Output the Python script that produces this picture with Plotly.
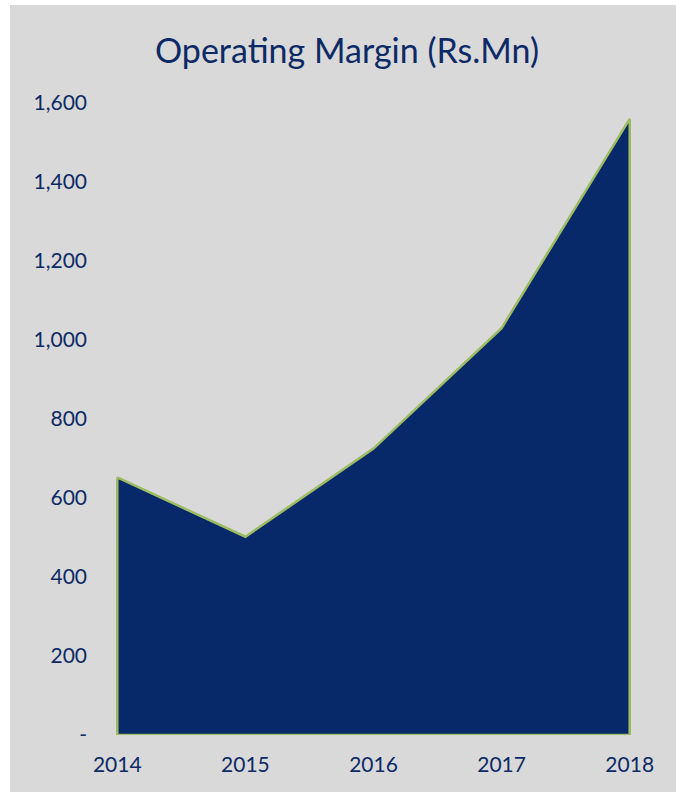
import plotly.graph_objects as go

years = ["2014", "2015", "2016", "2017", "2018"]
operating_margin = [652, 502, 725, 1030, 1560]
y_tick_vals = [0, 200, 400, 600, 800, 1000, 1200, 1400, 1600]
y_tick_text = ["-", "200", "400", "600", "800", "1,000", "1,200", "1,400", "1,600"]

TEXT = "#0c2a66"
FILL = "#072869"
LINE = "#9dbb61"
BG = "#d9d9d9"

idx = list(range(len(years)))
poly_x = idx + [idx[-1], idx[0], idx[0]]
poly_y = operating_margin + [0, 0, operating_margin[0]]

fig = go.Figure()
fig.add_trace(go.Scatter(
    x=poly_x, y=poly_y, mode="lines", fill="toself",
    fillcolor=FILL, line=dict(color=LINE, width=2.5),
    hoverinfo="skip", showlegend=False,
))

W, H = 676, 792
L, R, T, B = 116, 45, 103, 57
pw, ph = W - L - R, H - T - B

fig.update_layout(
    width=W, height=H, autosize=False,
    margin=dict(l=L, r=R, t=T, b=B, pad=0),
    paper_bgcolor=BG, plot_bgcolor=BG,
    title=dict(text="Operating Margin (Rs.Mn)", x=347 / W, xanchor="center",
               y=1 - 51 / H, yanchor="middle",
               font=dict(family="Lato", size=34, color=TEXT)),
    xaxis=dict(range=[-0.01, 4.01], tickmode="array", tickvals=idx, ticktext=years,
               showgrid=False, zeroline=False, showline=False,
               tickfont=dict(family="Lato", size=21, color=TEXT), ticklen=0,
               ticklabelstandoff=15, fixedrange=True),
    yaxis=dict(range=[0, 1600], tickmode="array", tickvals=y_tick_vals, ticktext=y_tick_text,
               showgrid=False, zeroline=False, showline=False,
               tickfont=dict(family="Lato", size=21, color=TEXT), ticklen=0,
               ticklabelstandoff=28, fixedrange=True),
    shapes=[
        dict(type="rect", xref="paper", yref="paper",
             x0=-L / pw - 0.01, x1=(-L + 10) / pw, y0=-B / ph - 0.01, y1=(ph + T) / ph + 0.01,
             fillcolor="white", line=dict(width=0), layer="above"),
        dict(type="rect", xref="paper", yref="paper",
             x0=-L / pw - 0.01, x1=(pw + R) / pw + 0.01, y0=(ph + T - 5) / ph, y1=(ph + T) / ph + 0.01,
             fillcolor="white", line=dict(width=0), layer="above"),
    ],
)

fig.write_html("out.html", config={"displayModeBar": False},
               post_script="document.body.style.margin='0';")
